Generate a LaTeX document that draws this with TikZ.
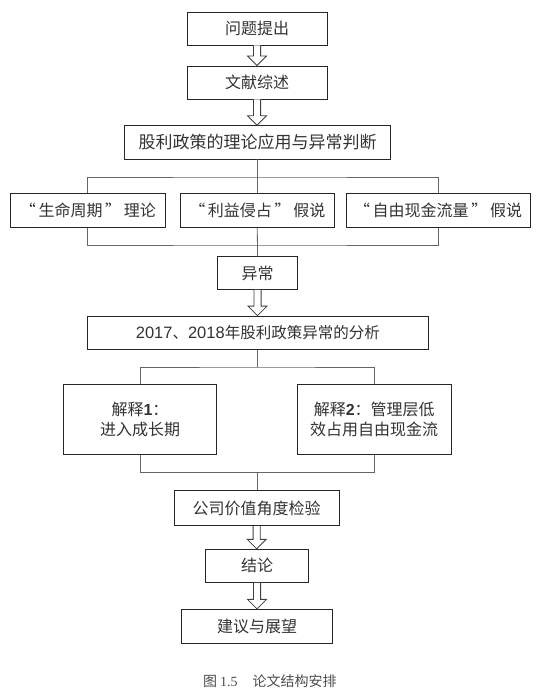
\documentclass[tikz,border=0pt]{standalone}
\usepackage{fontspec}
\setmainfont{Liberation Sans}
\newfontfamily\cjk{Noto Sans CJK SC}
\newfontfamily\serifnum{Liberation Serif}
\usetikzlibrary{calc}
\tikzset{
  box/.style={draw=black!85, line width=0.9pt, fill=white, inner sep=0pt, align=center,
    font=\cjk\fontsize{16}{20}\selectfont, text=black!80},
  link/.style={draw=black!60, line width=0.8pt},
  harrow/.style={draw=black!75, line width=0.8pt, fill=white},
  captxt/.style={font=\cjk\fontsize{14}{16}\selectfont, text=black!70, inner sep=0pt}
}
\newcommand\hollowarrow[2]{%
  \draw[harrow] let \p1=(#1.south), \p2=(#2.north) in
    (\x1-3.6pt,\y1) -- (\x1-3.6pt,\y2+9.5pt) -- (\x1-9.5pt,\y2+9.5pt) -- (\x1,\y2)
    -- (\x1+9.5pt,\y2+9.5pt) -- (\x1+3.6pt,\y2+9.5pt) -- (\x1+3.6pt,\y1);}
\begin{document}
\begin{tikzpicture}[x=1pt,y=-1pt]
\useasboundingbox[fill=white] (0,0) rectangle (550,694);
% column
\node[box, minimum width=140pt, minimum height=33pt] (b1) at (257,28.5) {问题提出};
\node[box, minimum width=140pt, minimum height=33pt] (b2) at (257,82.5) {文献综述};
\node[box, minimum width=266pt, minimum height=33.3pt, font=\cjk\fontsize{17}{20}\selectfont] (b3) at (257.5,142.3) {股利政策的理论应用与异常判断};
% three theories
\node[box, minimum width=155.7pt, minimum height=34pt] (ta) at (87.85,210.3) {“\,生命周期\,”\,理论};
\node[box, minimum width=154pt, minimum height=34pt] (tb) at (257.3,210.3) {“\,利益侵占\,”\,假说};
\node[box, minimum width=184pt, minimum height=34pt] (tc) at (438,210.3) {“\,自由现金流量\,”\,假说};
\node[box, minimum width=80.4pt, minimum height=32.6pt] (yc) at (257.5,273) {异常};
\node[box, minimum width=341pt, minimum height=33.3pt, font=\cjk\fontsize{15.5}{20}\selectfont] (fx) at (257.8,332.7)
  {{\rmfamily\fontsize{16.5}{20}\selectfont 2017}、{\rmfamily\fontsize{16.5}{20}\selectfont 2018}年股利政策异常的分析};
% explanations
\node[box, minimum width=153.4pt, minimum height=70pt] (e1) at (140,419.3)
  {解释{\rmfamily\bfseries 1}：\\进入成长期};
\node[box, minimum width=153.7pt, minimum height=70pt] (e2) at (374.2,419.3)
  {解释{\rmfamily\bfseries 2}：管理层低\\效占用自由现金流};
\node[box, minimum width=165.3pt, minimum height=35pt] (gs) at (256.7,508.2) {公司价值角度检验};
\node[box, minimum width=102.6pt, minimum height=33pt] (jl) at (257,565.8) {结论};
\node[box, minimum width=150.6pt, minimum height=34pt] (jy) at (257,626.3) {建议与展望};
% caption
\node[captxt, anchor=west] (cap) at (203,681) {图\hspace{3pt}{\serifnum 1.5}\hspace{15pt}论文结构安排};
% hollow arrows
\hollowarrow{b1}{b2}
\hollowarrow{b2}{b3}
\hollowarrow{yc}{fx}
\hollowarrow{gs}{jl}
\hollowarrow{jl}{jy}
% brackets (theories)
\coordinate (t1) at (257.3,177);
\coordinate (t2) at (257.3,245);
\draw[link] (b3.south) -- (b3.south |- t1);
\draw[link] (ta.north) |- (t1) -| (tc.north);
\draw[link] (t1) -- (tb.north);
\draw[link] (ta.south) |- (t2) -| (tc.south);
\draw[link] (tb.south) -- (yc.north);
% brackets (explanations)
\coordinate (u1) at (257.3,367);
\coordinate (u2) at (257.3,472.3);
\draw[link] (fx.south -| u1) -- (u1);
\draw[link] (e1.north) |- (u1) -| (e2.north);
\draw[link] (e1.south) |- (u2) -| (e2.south);
\draw[link] (u2) -- (u2 |- gs.north);
\end{tikzpicture}
\end{document}
